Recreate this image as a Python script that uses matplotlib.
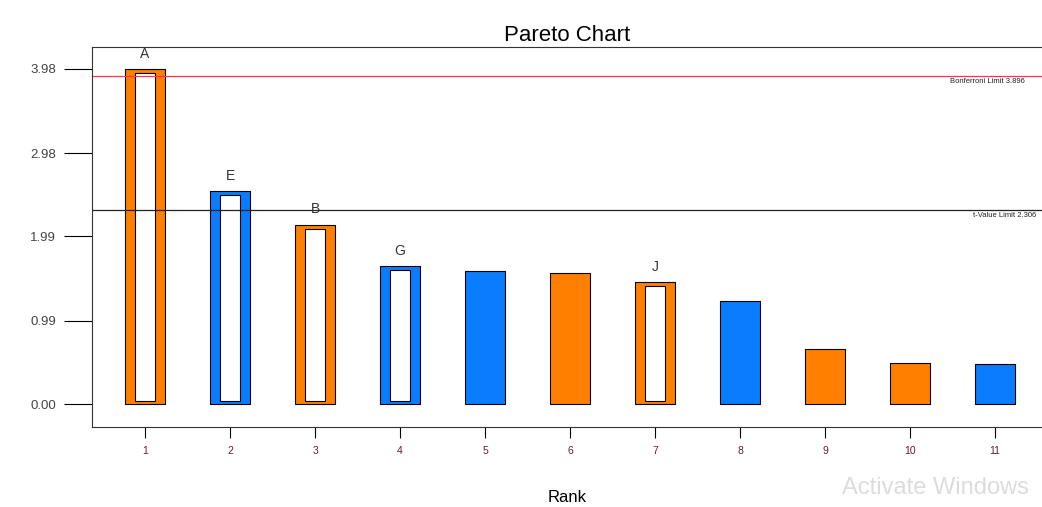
import matplotlib.pyplot as plt
from matplotlib.patches import Rectangle

plt.rcParams['font.family'] = ['Liberation Sans', 'DejaVu Sans']

# === Data ===
ranks = [1, 2, 3, 4, 5, 6, 7, 8, 9, 10, 11]
effects = [3.98, 2.53, 2.13, 1.64, 1.58, 1.555, 1.45, 1.22, 0.655, 0.49, 0.475]
signs = ["+", "-", "+", "-", "-", "+", "+", "-", "+", "+", "-"]
terms = ["A", "E", "B", "G", "", "", "J", "", "", "", ""]
yticks = [0.00, 0.99, 1.99, 2.98, 3.98]
bonferroni = 3.896
t_limit = 2.306

orange = "#FF8000"
blue = "#0A7DFF"

fig = plt.figure(figsize=(10.42, 5.07), dpi=100)
ax = fig.add_axes([92 / 1042, 80 / 507, 960 / 1042, 380 / 507])

width = 0.48
for r, v, s, t in zip(ranks, effects, signs, terms):
    col = orange if s == "+" else blue
    ax.bar(r, v, width=width, color=col, edgecolor="black", linewidth=0.8)
    if t:
        # hollow bar: white core inside the coloured frame
        ax.add_patch(Rectangle((r - 0.12, 0.04), 0.24, v - 0.09,
                               facecolor="white", edgecolor="black", linewidth=0.8))
        ax.annotate(t, (r, v), xytext=(0, 6), textcoords="offset points",
                    ha="center", va="bottom", fontsize=10, color="#333333")

# === Limit lines ===
ax.axhline(bonferroni, color="#FF3355", linewidth=0.9)
ax.axhline(t_limit, color="#222222", linewidth=0.9)
ax.text(10.47, bonferroni - 0.03, "Bonferroni Limit 3.896", fontsize=5.5,
        va="top", ha="left", color="#222222")
ax.text(10.74, t_limit - 0.03, "t-Value Limit 2.306", fontsize=5.5,
        va="top", ha="left", color="#222222")

ax.set_xlim(0.376, 0.376 + 960 / 85)
ax.set_ylim(-0.273, 4.24)
ax.set_xticks(ranks)
ax.set_xticklabels([str(r) for r in ranks], fontsize=7.5, color="#6a1a3a")
ax.set_yticks(yticks)
ax.set_yticklabels([f"{y:.2f}" for y in yticks], fontsize=9.5, color="#444444")
ax.tick_params(axis="y", length=20, width=0.8, pad=6)
ax.tick_params(axis="x", length=8, width=0.8, pad=6)
for sp in ax.spines.values():
    sp.set_linewidth(0.8)
    sp.set_color("#333333")

ax.set_title("Pareto Chart", fontsize=16, pad=4, x=(567 - 92) / 960)
ax.set_xlabel("Rank", fontsize=12, labelpad=24, x=(567 - 92) / 960)

fig.text(0.808, 0.025, "Activate Windows", fontsize=17, color="#dcdcdc")

plt.savefig("out.png", dpi=100)
